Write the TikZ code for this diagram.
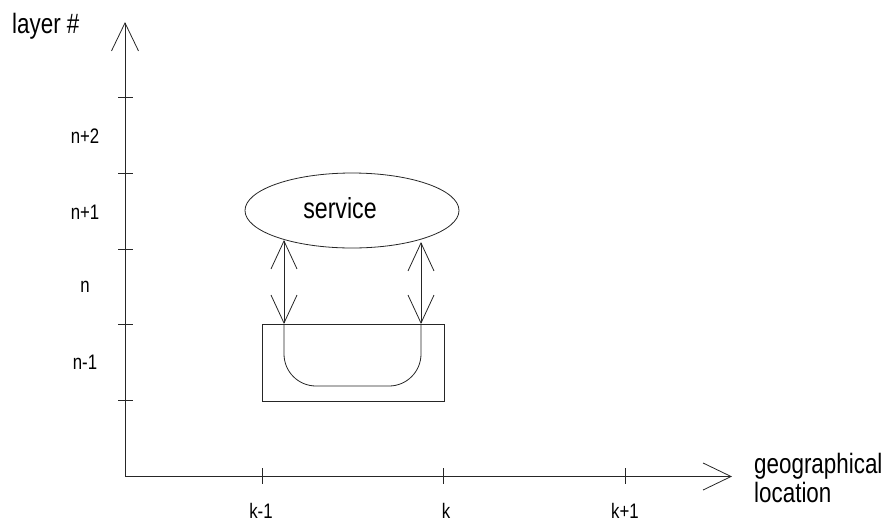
\documentclass[tikz,border=0pt]{standalone}
\usepackage{fontspec}
\setmainfont[FakeStretch=0.8]{Liberation Sans}
\usetikzlibrary{arrows.meta,shapes.geometric}

\tikzset{
  thin line/.style={line width=0.8pt, draw=black!85},
  open tip/.style={-{Straight Barb[length=28pt,width=27pt,line width=0.8pt]}},
  both tips/.style={{Straight Barb[length=28pt,width=26pt,line width=0.8pt]}-{Straight Barb[length=28pt,width=26pt,line width=0.8pt]}},
  tick/.style={thin line},
  axis title/.style={font=\fontsize{28}{30}\selectfont, inner sep=0pt},
  tick label/.style={font=\fontsize{21}{23}\selectfont, inner sep=0pt},
}

\begin{document}
\begin{tikzpicture}[x=1pt, y=-1pt]
  \useasboundingbox (0,0) rectangle (887,523);

  % axes
  \coordinate (origin) at (125,476.5);
  \coordinate (ytop) at (125,22);
  \coordinate (xend) at (732,476.5);
  \draw[thin line, open tip] (origin) -- (ytop);
  \draw[thin line, open tip] (origin) -- (xend);

  % layer ticks and labels
  \foreach \y/\name in {97/t1,173/t2,249/t3,324/t4,400/t5} {
    \draw[tick] (118,\y) -- (133,\y);
  }
  \node[tick label] (lnp2) at (85,136) {n+2};
  \node[tick label] (lnp1) at (85,212) {n+1};
  \node[tick label] (ln)   at (85,287) {n};
  \node[tick label] (lnm1) at (85,362) {n-1};

  % location ticks and labels
  \foreach \x in {262,443,625} {
    \draw[tick] (\x,468) -- (\x,484);
  }
  \node[tick label] (lkm1) at (261,511) {k-1};
  \node[tick label] (lk)   at (446,511) {k};
  \node[tick label] (lkp1) at (625,511) {k+1};

  % axis titles
  \node[axis title, anchor=west] (ylab) at (12,26) {layer \#};
  \node[axis title, anchor=west, align=left] (xlab) at (754,478)
    {geographical\\[-1pt]location};

  % service and the box below it
  \node[draw, thin line, ellipse, minimum width=214pt, minimum height=75pt,
        inner sep=0pt] (service) at (352,210.5) {};
  \node[font=\fontsize{29}{31}\selectfont, inner sep=0pt] (servicetext)
    at (340,208) {service};
  \node[draw, thin line, minimum width=182pt, minimum height=77pt,
        inner sep=0pt] (box) at (353,362.5) {};

  % coupling points
  \coordinate (aTop) at (284,240);
  \coordinate (aBot) at (284,324);
  \coordinate (bTop) at (421,242);
  \coordinate (bBot) at (421,324);

  \draw[thin line, both tips] (aTop) -- (aBot);
  \draw[thin line, both tips] (bTop) -- (bBot);

  % path through the box
  \draw[thin line, rounded corners=32pt] (aBot) -- (284,386) -- (421,386) -- (bBot);
\end{tikzpicture}
\end{document}
